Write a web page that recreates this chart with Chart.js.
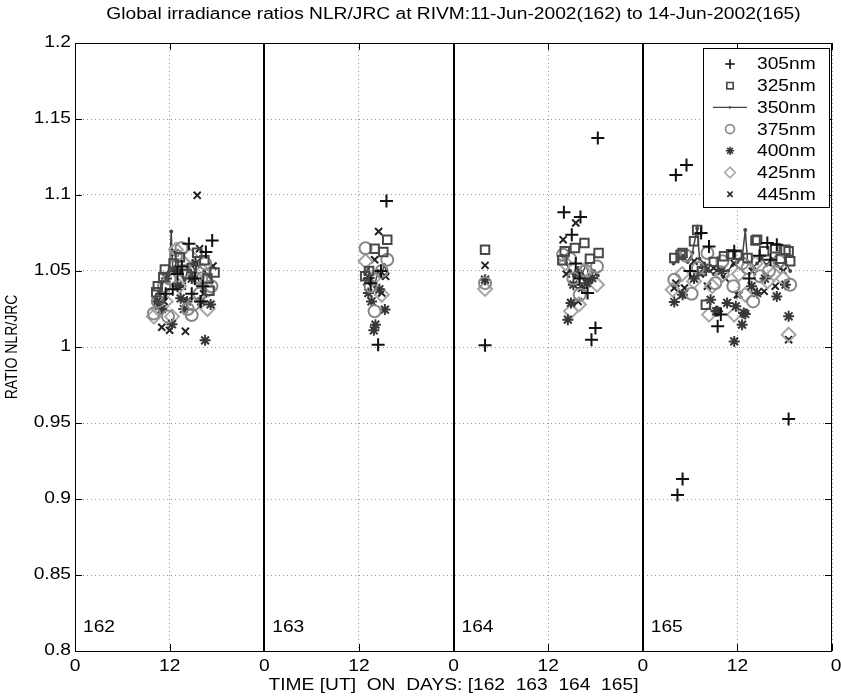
<!DOCTYPE html>
<html>
<head>
<meta charset="utf-8">
<script src="https://cdn.jsdelivr.net/npm/chart.js@4.4.1/dist/chart.umd.min.js"></script>
<style>
  html, body { margin: 0; padding: 0; background: #fff; }
  #wrap { width: 841px; height: 700px; position: relative; }
</style>
</head>
<body>
<div id="wrap"><canvas id="chart"></canvas></div>
<script>
// hours since 00 UT of day 162, ratio NLR/JRC
const s305 = [
  [11.5, 1.035], [12.4, 1.038], [13.0, 1.048], [13.55, 1.053], [14.44, 1.068], [14.8, 1.035], [15.2, 1.045],
  [15.9, 1.030], [16.2, 1.040], [16.6, 1.0625], [17.4, 1.070],
  [37.5, 1.042], [38.44, 1.0015], [38.8, 1.050], [39.5, 1.096],
  [52.0, 1.0011], [62.0, 1.0886], [63.0, 1.0739], [63.5, 1.055], [64.0, 1.045], [64.1, 1.0855], [65.0, 1.0355],
  [65.5, 1.0048], [66.0, 1.0125], [66.3, 1.1375],
  [76.2, 1.1132], [77.55, 1.1197], [77.05, 0.9132], [76.4, 0.9026], [78.0, 1.050], [79.4, 1.075], [80.4, 1.0662],
  [81.5, 1.0136], [81.9, 1.0213], [83.6, 1.063], [85.5, 1.045], [86.8, 1.060], [87.8, 1.0684], [88.2, 1.0574],
  [89.0, 1.0673], [90.5, 0.9526]
];
const s325 = [
  [10.3, 1.036], [10.5, 1.040], [10.8, 1.032], [11.2, 1.046], [11.4, 1.051], [12.5, 1.055], [13.3, 1.059],
  [14.2, 1.048], [14.8, 1.052], [15.5, 1.062], [16.4, 1.057], [16.8, 1.045], [17.05, 1.037], [17.7, 1.049],
  [36.8, 1.0465], [37.3, 1.050], [38.0, 1.0647], [39.1, 1.0625], [39.6, 1.0706],
  [52.0, 1.064], [61.8, 1.057], [62.1, 1.063], [63.4, 1.0651], [64.6, 1.0684], [65.3, 1.058], [66.4, 1.0618],
  [76.0, 1.0586], [76.8, 1.0607], [77.05, 1.0618], [78.5, 1.0695], [78.9, 1.077], [79.5, 1.050], [80.0, 1.0278],
  [81.0, 1.056], [82.3, 1.0597], [83.2, 1.061], [84.0, 1.0607], [85.3, 1.0586], [86.3, 1.070], [86.5, 1.0706],
  [87.4, 1.063], [88.8, 1.065], [89.5, 1.058], [90.1, 1.064], [90.5, 1.063], [90.7, 1.0564]
];
// 350nm is drawn as a line, null breaks it between days
const s350 = [
  [10.2, 1.030], [10.6, 1.036], [11.0, 1.042], [11.5, 1.047], [12.0, 1.052], [12.2, 1.076], [12.4, 1.050],
  [12.9, 1.056], [13.4, 1.049], [13.9, 1.044], [14.4, 1.052], [14.9, 1.055], [15.4, 1.046], [15.9, 1.042],
  [16.4, 1.050], [16.9, 1.047], [17.4, 1.043], null,
  [36.8, 1.048], [37.2, 1.052], [37.6, 1.045], [38.0, 1.040], [38.4, 1.050], [38.8, 1.046], [39.2, 1.054],
  [39.6, 1.048], null,
  [52.0, 1.044], null,
  [61.8, 1.060], [62.3, 1.055], [62.8, 1.050], [63.3, 1.046], [63.8, 1.052], [64.3, 1.048], [64.8, 1.054],
  [65.3, 1.045], [65.8, 1.050], [66.3, 1.047], null,
  [75.9, 1.055], [76.5, 1.058], [77.1, 1.060], [77.7, 1.056], [78.3, 1.062], [78.9, 1.078], [79.2, 1.058],
  [79.8, 1.055], [80.4, 1.050], [81.0, 1.048], [81.6, 1.052], [82.2, 1.046], [82.8, 1.050], [83.4, 1.054],
  [84.0, 1.056], [84.6, 1.058], [85.0, 1.077], [85.3, 1.056], [85.9, 1.052], [86.5, 1.055], [87.1, 1.058],
  [87.7, 1.054], [88.3, 1.058], [88.9, 1.055], [89.5, 1.052], [90.1, 1.056], [90.7, 1.050]
];
const s375 = [
  [10.0, 1.022], [10.5, 1.030], [11.3, 1.040], [11.8, 1.020], [12.0, 1.045], [12.8, 1.060], [13.5, 1.065],
  [13.8, 1.050], [14.3, 1.025], [14.8, 1.021], [15.0, 1.028], [15.8, 1.035], [16.0, 1.045], [16.5, 1.055],
  [17.3, 1.040],
  [36.85, 1.065], [37.5, 1.040], [38.0, 1.0235], [38.9, 1.050], [39.6, 1.0574],
  [52.0, 1.042], [61.9, 1.0607], [62.8, 1.058], [63.2, 1.045], [64.0, 1.0344], [64.8, 1.050], [66.2, 1.053],
  [76.0, 1.0443], [77.5, 1.060], [78.2, 1.035], [79.0, 1.052], [80.2, 1.0618], [81.2, 1.042], [82.1, 1.0564],
  [83.5, 1.040], [84.6, 1.055], [85.3, 1.052], [86.0, 1.030], [86.9, 1.0465], [88.0, 1.050], [89.3, 1.0564],
  [90.7, 1.041]
];
const s400 = [
  [10.4, 1.030], [11.0, 1.025], [11.6, 1.045], [12.3, 1.015], [12.6, 1.050], [13.0, 1.040], [13.4, 1.032],
  [13.8, 1.025], [14.2, 1.030], [14.8, 1.045], [15.3, 1.055], [16.0, 1.030], [16.5, 1.0044], [17.2, 1.028],
  [37.2, 1.0355], [37.3, 1.0454], [37.6, 1.030], [37.9, 1.011], [38.1, 1.0147], [38.6, 1.038], [39.3, 1.0246],
  [52.0, 1.0443], [62.5, 1.018], [62.9, 1.029], [63.2, 1.041], [63.8, 1.048], [64.3, 1.0388], [64.9, 1.042],
  [65.6, 1.0454],
  [76.0, 1.0296], [77.05, 1.0344], [78.5, 1.045], [79.8, 1.052], [80.6, 1.0311], [81.3, 1.0235], [81.5, 1.0235],
  [82.0, 1.050], [82.7, 1.029], [83.6, 1.0037], [83.8, 1.0268], [84.6, 1.0147], [84.8, 1.0224], [85.0, 1.0217],
  [85.8, 1.040], [86.5, 1.0355], [87.5, 1.045], [89.0, 1.0333], [90.1, 1.041], [90.5, 1.0202]
];
const s425 = [
  [10.0, 1.020], [10.6, 1.025], [11.5, 1.030], [12.3, 1.020], [12.8, 1.064], [13.2, 1.040], [13.9, 1.055],
  [14.6, 1.060], [15.4, 1.045], [16.2, 1.050], [16.8, 1.025], [17.0, 1.038],
  [36.85, 1.0564], [37.8, 1.045], [38.9, 1.0344],
  [52.0, 1.0382], [62.2, 1.055], [62.9, 1.0235], [63.9, 1.028], [64.5, 1.050], [66.2, 1.041],
  [75.8, 1.0377], [77.0, 1.048], [78.5, 1.0432], [80.4, 1.0213], [80.8, 1.040], [82.1, 1.0476], [83.6, 1.0213],
  [84.2, 1.048], [85.0, 1.0344], [86.3, 1.055], [87.8, 1.0432], [88.6, 1.048], [89.8, 1.045], [90.5, 1.0081]
];
const s445 = [
  [10.6, 1.027], [11.0, 1.013], [11.3, 1.030], [12.0, 1.011], [12.7, 1.062], [13.2, 1.050], [13.6, 1.040],
  [14.0, 1.0103], [14.9, 1.048], [15.5, 1.0998], [15.8, 1.0647], [16.3, 1.035], [17.5, 1.0533],
  [37.0, 1.043], [38.0, 1.0574], [38.5, 1.076], [38.9, 1.0355], [39.4, 1.0465],
  [52.0, 1.0537], [61.9, 1.0706], [62.3, 1.048], [62.9, 1.029], [63.5, 1.0816], [63.8, 1.030], [65.0, 1.045],
  [76.0, 1.0388], [76.2, 1.042], [77.0, 1.0344], [77.3, 1.0388], [78.5, 1.0564], [79.3, 1.048], [80.2, 1.040],
  [81.0, 1.052], [82.5, 1.045], [83.6, 1.055], [84.0, 1.0344], [84.2, 1.0344], [85.9, 1.0498], [87.4, 1.0366],
  [88.8, 1.040], [89.8, 1.050], [90.5, 1.0048]
];

const seriesNames = ["305nm", "325nm", "350nm", "375nm", "400nm", "425nm", "445nm"];
const dayNumbers = [162, 163, 164, 165];
const yTicks = [0.8, 0.85, 0.9, 0.95, 1, 1.05, 1.1, 1.15, 1.2];
const xTicks = [0, 12, 24, 36, 48, 60, 72, 84, 96];

const titleText = "Global irradiance ratios NLR/JRC at RIVM:11-Jun-2002(162) to 14-Jun-2002(165)";
const xLabel = "TIME [UT]  ON  DAYS: [162  163  164  165]";
const yLabel = "RATIO NLR/JRC";

const FONT = "'Liberation Sans', Arial, Helvetica, sans-serif";
const STRETCH = 1.2; // text in the figure is a bit wider than plain Arial

const toPts = (arr) => arr.map((p) => (p ? { x: p[0], y: p[1] } : { x: NaN, y: null }));

const mk = (i, data, style, color, radius, extra) =>
  Object.assign(
    {
      label: seriesNames[i],
      data: toPts(data),
      pointStyle: style,
      pointRadius: radius,
      pointHoverRadius: radius,
      borderColor: color,
      backgroundColor: color,
      pointBorderWidth: 2,
      showLine: false,
    },
    extra || {}
  );

const datasets = [
  mk(0, s305, "cross", "#111", 6.5),
  mk(1, s325, "rect", "#484848", 6, { backgroundColor: "rgba(0,0,0,0)" }),
  mk(2, s350, "circle", "#444", 1, { showLine: true, borderWidth: 1.5, spanGaps: false, order: 10 }),
  mk(3, s375, "circle", "#888", 6, { backgroundColor: "rgba(0,0,0,0)" }),
  mk(4, s400, "star", "#383838", 5.5),
  mk(5, s425, "rectRot", "#a6a6a6", 7, { backgroundColor: "rgba(0,0,0,0)" }),
  mk(6, s445, "crossRot", "#222", 5),
];

const text = (c, str, x, y, align, size) => {
  c.save();
  c.translate(x, y);
  c.scale(STRETCH, 1);
  c.font = size + "px " + FONT;
  c.textAlign = align;
  c.textBaseline = "middle";
  c.fillText(str, 0, 0);
  c.restore();
};

const decor = {
  id: "decor",
  beforeDraw(chart) {
    const c = chart.ctx;
    c.save();
    c.fillStyle = "#fff";
    c.fillRect(0, 0, chart.width, chart.height);
    c.restore();
  },
  beforeDatasetsDraw(chart) {
    const c = chart.ctx;
    const a = chart.chartArea;
    const xs = chart.scales.x;
    c.save();
    c.strokeStyle = "#000";
    c.lineWidth = 2;
    [24, 48, 72].forEach((h) => {
      const px = Math.round(xs.getPixelForValue(h));
      c.beginPath();
      c.moveTo(px, a.top);
      c.lineTo(px, a.bottom);
      c.stroke();
    });
    c.restore();
  },
  afterDraw(chart) {
    const c = chart.ctx;
    const a = chart.chartArea;
    const xs = chart.scales.x;
    const ys = chart.scales.y;
    c.save();
    // box
    c.strokeStyle = "#000";
    c.lineWidth = 1;
    c.strokeRect(a.left + 0.5, a.top + 0.5, a.right - a.left - 1, a.bottom - a.top);
    // inner tick marks
    c.beginPath();
    yTicks.forEach((v) => {
      const py = Math.round(ys.getPixelForValue(v)) + 0.5;
      c.moveTo(a.left, py);
      c.lineTo(a.left + 7, py);
      c.moveTo(a.right, py);
      c.lineTo(a.right - 7, py);
    });
    xTicks.forEach((h) => {
      const px = Math.round(xs.getPixelForValue(h)) + 0.5;
      c.moveTo(px, a.bottom);
      c.lineTo(px, a.bottom - 7);
      c.moveTo(px, a.top);
      c.lineTo(px, a.top + 7);
    });
    c.stroke();

    c.fillStyle = "#000";
    // tick labels
    yTicks.forEach((v) => {
      text(c, String(parseFloat(v.toFixed(2))), a.left - 4, ys.getPixelForValue(v), "right", 16);
    });
    xTicks.forEach((h) => {
      text(c, String(h % 24), xs.getPixelForValue(h) + (h === 96 ? 4 : 0), a.bottom + 16, "center", 16);
    });
    // title and axis labels
    const cx = (a.left + a.right) / 2;
    text(c, titleText, cx, 15, "center", 16);
    text(c, xLabel, cx, 686, "center", 16);
    c.save();
    c.translate(12, (a.top + a.bottom) / 2);
    c.rotate(-Math.PI / 2);
    c.scale(1, STRETCH);
    c.font = "14px " + FONT;
    c.textAlign = "center";
    c.textBaseline = "middle";
    c.fillText(yLabel, 0, 0);
    c.restore();
    // day labels
    dayNumbers.forEach((d, i) => {
      text(c, String(d), xs.getPixelForValue(i * 24) + 8, a.bottom - 23, "left", 16);
    });

    // legend
    const lx = 703, ly = 48, lw = 126, lh = 159;
    c.fillStyle = "#fff";
    c.fillRect(lx, ly, lw, lh);
    c.strokeStyle = "#000";
    c.lineWidth = 1;
    c.strokeRect(lx + 0.5, ly + 0.5, lw, lh);
    chart.data.datasets.forEach((ds, i) => {
      const ry = 64 + i * 21.7;
      if (ds.showLine) {
        c.strokeStyle = ds.borderColor;
        c.lineWidth = 1.3;
        c.beginPath();
        c.moveTo(713, ry);
        c.lineTo(747, ry);
        c.stroke();
        c.fillStyle = ds.borderColor;
        c.beginPath();
        c.arc(730, ry, 1.2, 0, 2 * Math.PI);
        c.fill();
      } else {
        c.strokeStyle = ds.borderColor;
        c.fillStyle = ds.backgroundColor;
        c.lineWidth = 1.6;
        Chart.helpers.drawPoint(
          c,
          { pointStyle: ds.pointStyle, radius: ds.pointRadius * 0.75, rotation: 0, borderWidth: 1.6 },
          730,
          ry
        );
      }
      c.fillStyle = "#000";
      text(c, ds.label, 757, ry + 1, "left", 16);
    });
    c.restore();
  },
};

new Chart(document.getElementById("chart"), {
  type: "scatter",
  data: { datasets: datasets },
  plugins: [decor],
  options: {
    responsive: true,
    maintainAspectRatio: false,
    animation: false,
    layout: { padding: { left: 0, right: 6, top: 43, bottom: 0 } },
    plugins: {
      legend: { display: false },
      tooltip: { enabled: false },
    },
    scales: {
      x: {
        type: "linear",
        min: 0,
        max: 96,
        afterFit: (s) => { s.height = 49; },
        afterBuildTicks: (s) => {
          s.ticks = xTicks.map((v) => ({ value: v }));
        },
        ticks: { display: false },
        grid: { color: "#999", lineWidth: 1, drawTicks: false },
        border: { display: false, dash: [1, 3] },
      },
      y: {
        type: "linear",
        min: 0.8,
        max: 1.2,
        afterFit: (s) => { s.width = 75; },
        afterBuildTicks: (s) => {
          s.ticks = yTicks.map((v) => ({ value: v }));
        },
        ticks: { display: false },
        grid: { color: "#999", lineWidth: 1, drawTicks: false },
        border: { display: false, dash: [1, 3] },
      },
    },
  },
});
</script>
</body>
</html>
